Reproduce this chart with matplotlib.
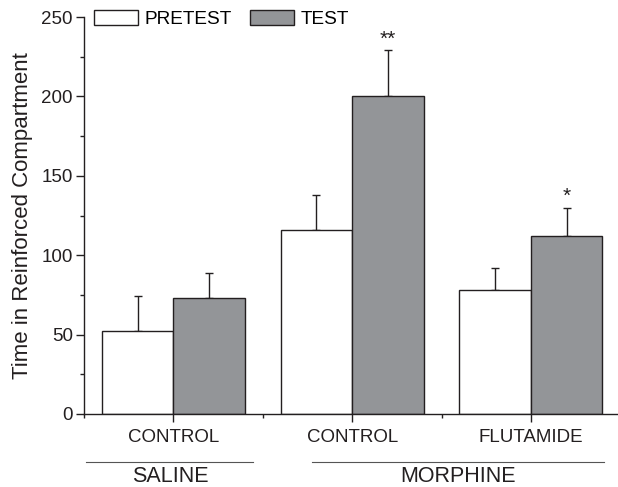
import matplotlib
matplotlib.use("Agg")
import matplotlib.pyplot as plt
from matplotlib.patches import Patch
from matplotlib.ticker import MultipleLocator
import numpy as np

plt.rcParams['font.family'] = ['Liberation Sans', 'DejaVu Sans']

categories = ["CONTROL", "CONTROL", "FLUTAMIDE"]
groups = ["SALINE", "MORPHINE"]
pretest = [52, 116, 78]
pretest_err = [22, 22, 14]
test = [73, 200, 112]
test_err = [16, 29, 18]
test_sig = ["", "**", "*"]

edge = "#231f20"
gray = "#939598"

fig = plt.figure(figsize=(6.18, 4.87), dpi=100)
ax = fig.add_axes([84/618, 73/487, 1 - 84/618, 397/487])

x = np.arange(1, len(categories) + 1)
w = 0.4
ax.bar(x - w/2, pretest, w, color="white", edgecolor=edge, linewidth=1, zorder=2)
ax.bar(x + w/2, test, w, color=gray, edgecolor=edge, linewidth=1, zorder=2)
ax.errorbar(x - w/2, pretest, yerr=[np.zeros(3), pretest_err], fmt='none',
            ecolor=edge, elinewidth=1, capsize=3.2, capthick=1, zorder=1)
ax.errorbar(x + w/2, test, yerr=[np.zeros(3), test_err], fmt='none',
            ecolor=edge, elinewidth=1, capsize=3.2, capthick=1, zorder=1)
for xi, v, e, s in zip(x, test, test_err, test_sig):
    if s:
        ax.text(xi + w/2, v + e + 1.0, s, ha='center', va='bottom', fontsize=15, color=edge)

ax.set_xlim(0.5, 1 + (618 - 174) / 178.5)
ax.set_ylim(0, 250)
ax.yaxis.set_major_locator(MultipleLocator(50))
ax.yaxis.set_minor_locator(MultipleLocator(25))
ax.set_xticks(x)
ax.set_xticklabels(categories)
ax.set_xticks([0.5, 1.5, 2.5], minor=True)
ax.tick_params(axis='both', which='major', direction='out', length=6, width=1, color=edge,
               labelsize=13.5, labelcolor="#231f20")
ax.tick_params(axis='both', which='minor', direction='out', length=3, width=1, color=edge)
ax.tick_params(axis='x', which='major', pad=5)
ax.tick_params(axis='y', which='major', pad=2)
for sp in ['top', 'right']:
    ax.spines[sp].set_visible(False)
for sp in ['left', 'bottom']:
    ax.spines[sp].set_linewidth(1)
    ax.spines[sp].set_color(edge)

ax.set_ylabel("Time in Reinforced Compartment", fontsize=16, color=edge, labelpad=6)

# group lines and labels
tr = ax.get_xaxis_transform()
spans = [(0.513, 1.448), (1.773, 3.409)]
for (a, b), g in zip(spans, groups):
    ax.plot([a, b], [-48/397, -48/397], transform=tr, color="#555555", lw=0.8, clip_on=False)
    ax.text((a + b) / 2, -63/397, g, transform=tr, ha='center', va='center', fontsize=15.5, color=edge)

handles = [Patch(facecolor="white", edgecolor=edge, linewidth=1, label="PRETEST"),
           Patch(facecolor=gray, edgecolor=edge, linewidth=1, label="TEST")]
fig.legend(handles=handles, loc='upper left', bbox_to_anchor=(94/618, 1 - 10/487),
           ncol=2, frameon=False, fontsize=13.7, handlelength=2.3, handleheight=0.82,
           handletextpad=0.38, columnspacing=0.93, borderpad=0, borderaxespad=0)

fig.savefig("out.png", dpi=100)
